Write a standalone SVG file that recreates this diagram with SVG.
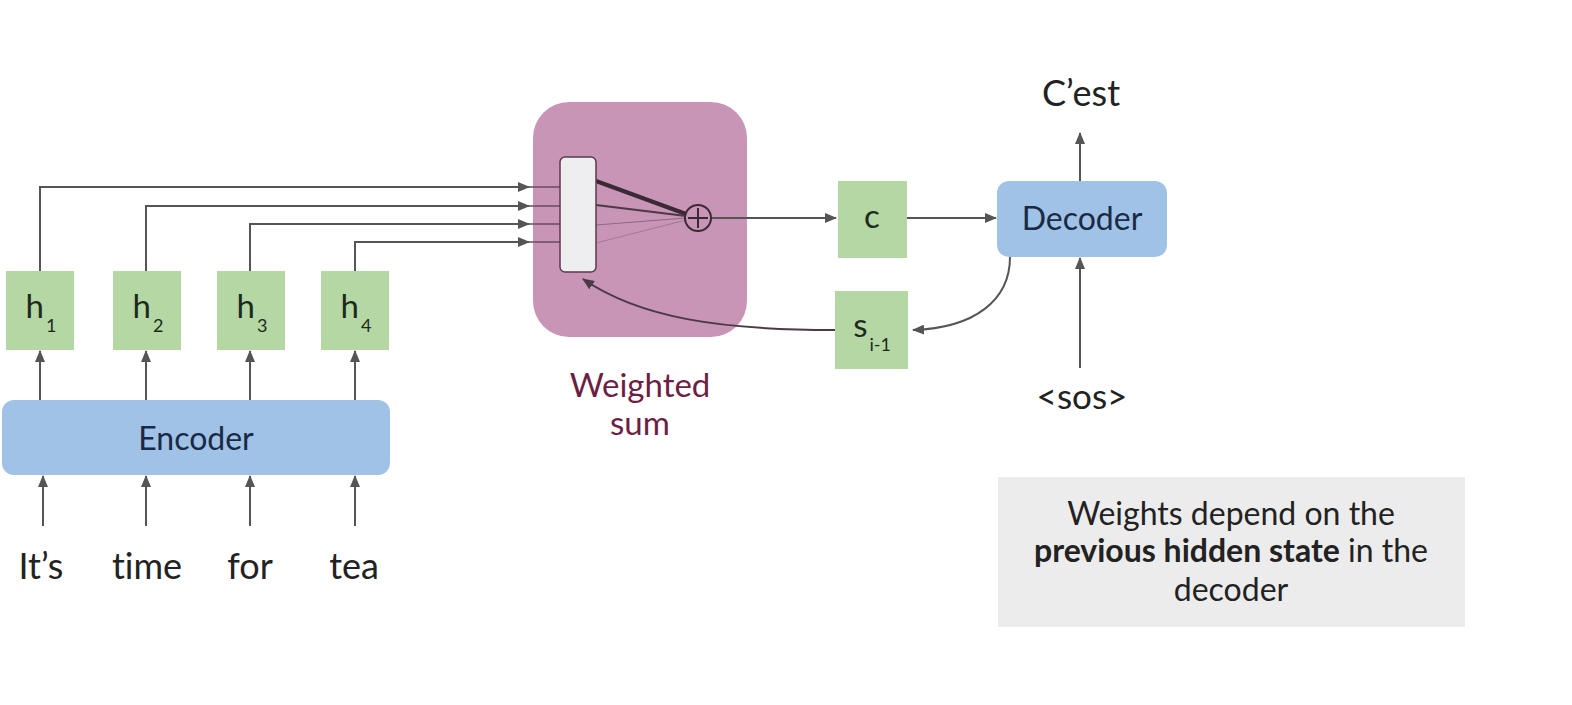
<svg xmlns="http://www.w3.org/2000/svg" width="1572" height="705" viewBox="0 0 1572 705">
<defs>
<marker id="ah" markerWidth="12" markerHeight="10" refX="11" refY="5" orient="auto" markerUnits="userSpaceOnUse">
<path d="M0,0 L12,5 L0,10 Z" fill="#555"/>
</marker>
<marker id="ahd" markerWidth="12" markerHeight="10" refX="11" refY="5" orient="auto" markerUnits="userSpaceOnUse">
<path d="M0,0 L12,5 L0,10 Z" fill="#4a3a46"/>
</marker>
</defs>
<style>
text{font-family:Lato,"Open Sans","Liberation Sans",sans-serif;font-variant-ligatures:none;}
.g{fill:#b4d7a4;}
.lbl{font-size:33px;fill:#1e2a1e;text-anchor:middle;}
.sub{font-size:18px;}
.enc{fill:#9fc2e6;}
.w{font-size:36px;fill:#222;text-anchor:middle;}
.ca{stroke:#555;stroke-width:2;fill:none;marker-end:url(#ah);}
</style>
<rect width="1572" height="705" fill="#fff"/>

<g id="weighted-sum">
<rect x="533" y="102" width="214" height="235" rx="36" fill="#c995b6"/>
<text x="640" y="397" font-size="33" fill="#6b1f45" text-anchor="middle">Weighted</text>
<text x="640" y="435" font-size="33" fill="#6b1f45" text-anchor="middle">sum</text>
</g>

<g id="connectors">
<path class="ca" d="M40,271 V187 H529"/>
<path class="ca" d="M146,271 V206 H529"/>
<path class="ca" d="M250,271 V224 H529"/>
<path class="ca" d="M355,271 V242 H529"/>
<path d="M529,187 H560 M529,206 H560 M529,224 H560 M529,242 H560" stroke="#6a4a60" stroke-width="1.5" fill="none"/>
<line x1="596" y1="181" x2="686" y2="214" stroke="#3a2a36" stroke-width="4"/>
<line x1="596" y1="205" x2="686" y2="216" stroke="#4a3a46" stroke-width="2.2"/>
<line x1="596" y1="225" x2="686" y2="218" stroke="#8a6a80" stroke-width="1.2"/>
<line x1="596" y1="243" x2="686" y2="220" stroke="#a07a94" stroke-width="1"/>
<path class="ca" d="M712,218 H836"/>
<path class="ca" d="M907,218 H996"/>
<path class="ca" d="M1010,257 C1010,300 975,328 913,330"/>
<path d="M835,330 C720,330 640,318 583,279" stroke="#4a3a46" stroke-width="2" fill="none" marker-end="url(#ahd)"/>
<path class="ca" d="M1080,181 V133"/>
<path class="ca" d="M1080,368 V258"/>
<path class="ca" d="M40,400 V351"/>
<path class="ca" d="M146,400 V351"/>
<path class="ca" d="M250,400 V351"/>
<path class="ca" d="M355,400 V351"/>
<path class="ca" d="M43,526 V476"/>
<path class="ca" d="M146,526 V476"/>
<path class="ca" d="M250,526 V476"/>
<path class="ca" d="M355,526 V476"/>
</g>

<g id="attention-bar">
<rect x="560" y="157" width="36" height="115" rx="5" fill="#eeeef1" stroke="#5a3a50" stroke-width="1.5"/>
</g>
<g id="plus">
<circle cx="698" cy="218" r="13" fill="none" stroke="#3a2a36" stroke-width="2"/>
<path d="M698,208 V228 M688,218 H708" stroke="#3a2a36" stroke-width="2"/>
</g>

<g id="h1"><rect class="g" x="6" y="271" width="68" height="79"/><text class="lbl" x="41" y="318">h<tspan class="sub" dx="2" dy="14">1</tspan></text></g>
<g id="h2"><rect class="g" x="113" y="271" width="68" height="79"/><text class="lbl" x="148" y="318">h<tspan class="sub" dx="2" dy="14">2</tspan></text></g>
<g id="h3"><rect class="g" x="217" y="271" width="68" height="79"/><text class="lbl" x="252" y="318">h<tspan class="sub" dx="2" dy="14">3</tspan></text></g>
<g id="h4"><rect class="g" x="321" y="271" width="68" height="79"/><text class="lbl" x="356" y="318">h<tspan class="sub" dx="2" dy="14">4</tspan></text></g>

<g id="encoder">
<rect class="enc" x="2" y="400" width="388" height="75" rx="12"/>
<text x="196" y="450" font-size="32" fill="#1a2a44" text-anchor="middle">Encoder</text>
</g>

<g id="inputs">
<text class="w" x="41" y="579">It’s</text>
<text class="w" x="147" y="579">time</text>
<text class="w" x="250" y="579">for</text>
<text class="w" x="354" y="579">tea</text>
</g>

<g id="c">
<rect class="g" x="838" y="181" width="69" height="77"/>
<text class="lbl" x="872" y="228">c</text>
</g>

<g id="s">
<rect class="g" x="835" y="291" width="73" height="78"/>
<text class="lbl" x="872" y="337">s<tspan class="sub" dx="2" dy="14">i-1</tspan></text>
</g>

<g id="decoder">
<rect class="enc" x="997" y="181" width="170" height="76" rx="12"/>
<text x="1082" y="230" font-size="32" fill="#1a2a44" text-anchor="middle">Decoder</text>
</g>

<g id="output"><text x="1081" y="106" font-size="36" fill="#222" text-anchor="middle">C’est</text></g>
<g id="sos"><text x="1082" y="409" font-size="35" fill="#222" text-anchor="middle">&lt;sos&gt;</text></g>

<g id="note">
<rect x="998" y="477" width="467" height="150" fill="#ececec"/>
<text x="1231" y="525" font-size="32" fill="#222" text-anchor="middle">Weights depend on the</text>
<text x="1231" y="562" font-size="32" fill="#222" text-anchor="middle"><tspan font-weight="bold">previous hidden state</tspan> in the</text>
<text x="1231" y="601" font-size="32" fill="#222" text-anchor="middle">decoder</text>
</g>
</svg>
